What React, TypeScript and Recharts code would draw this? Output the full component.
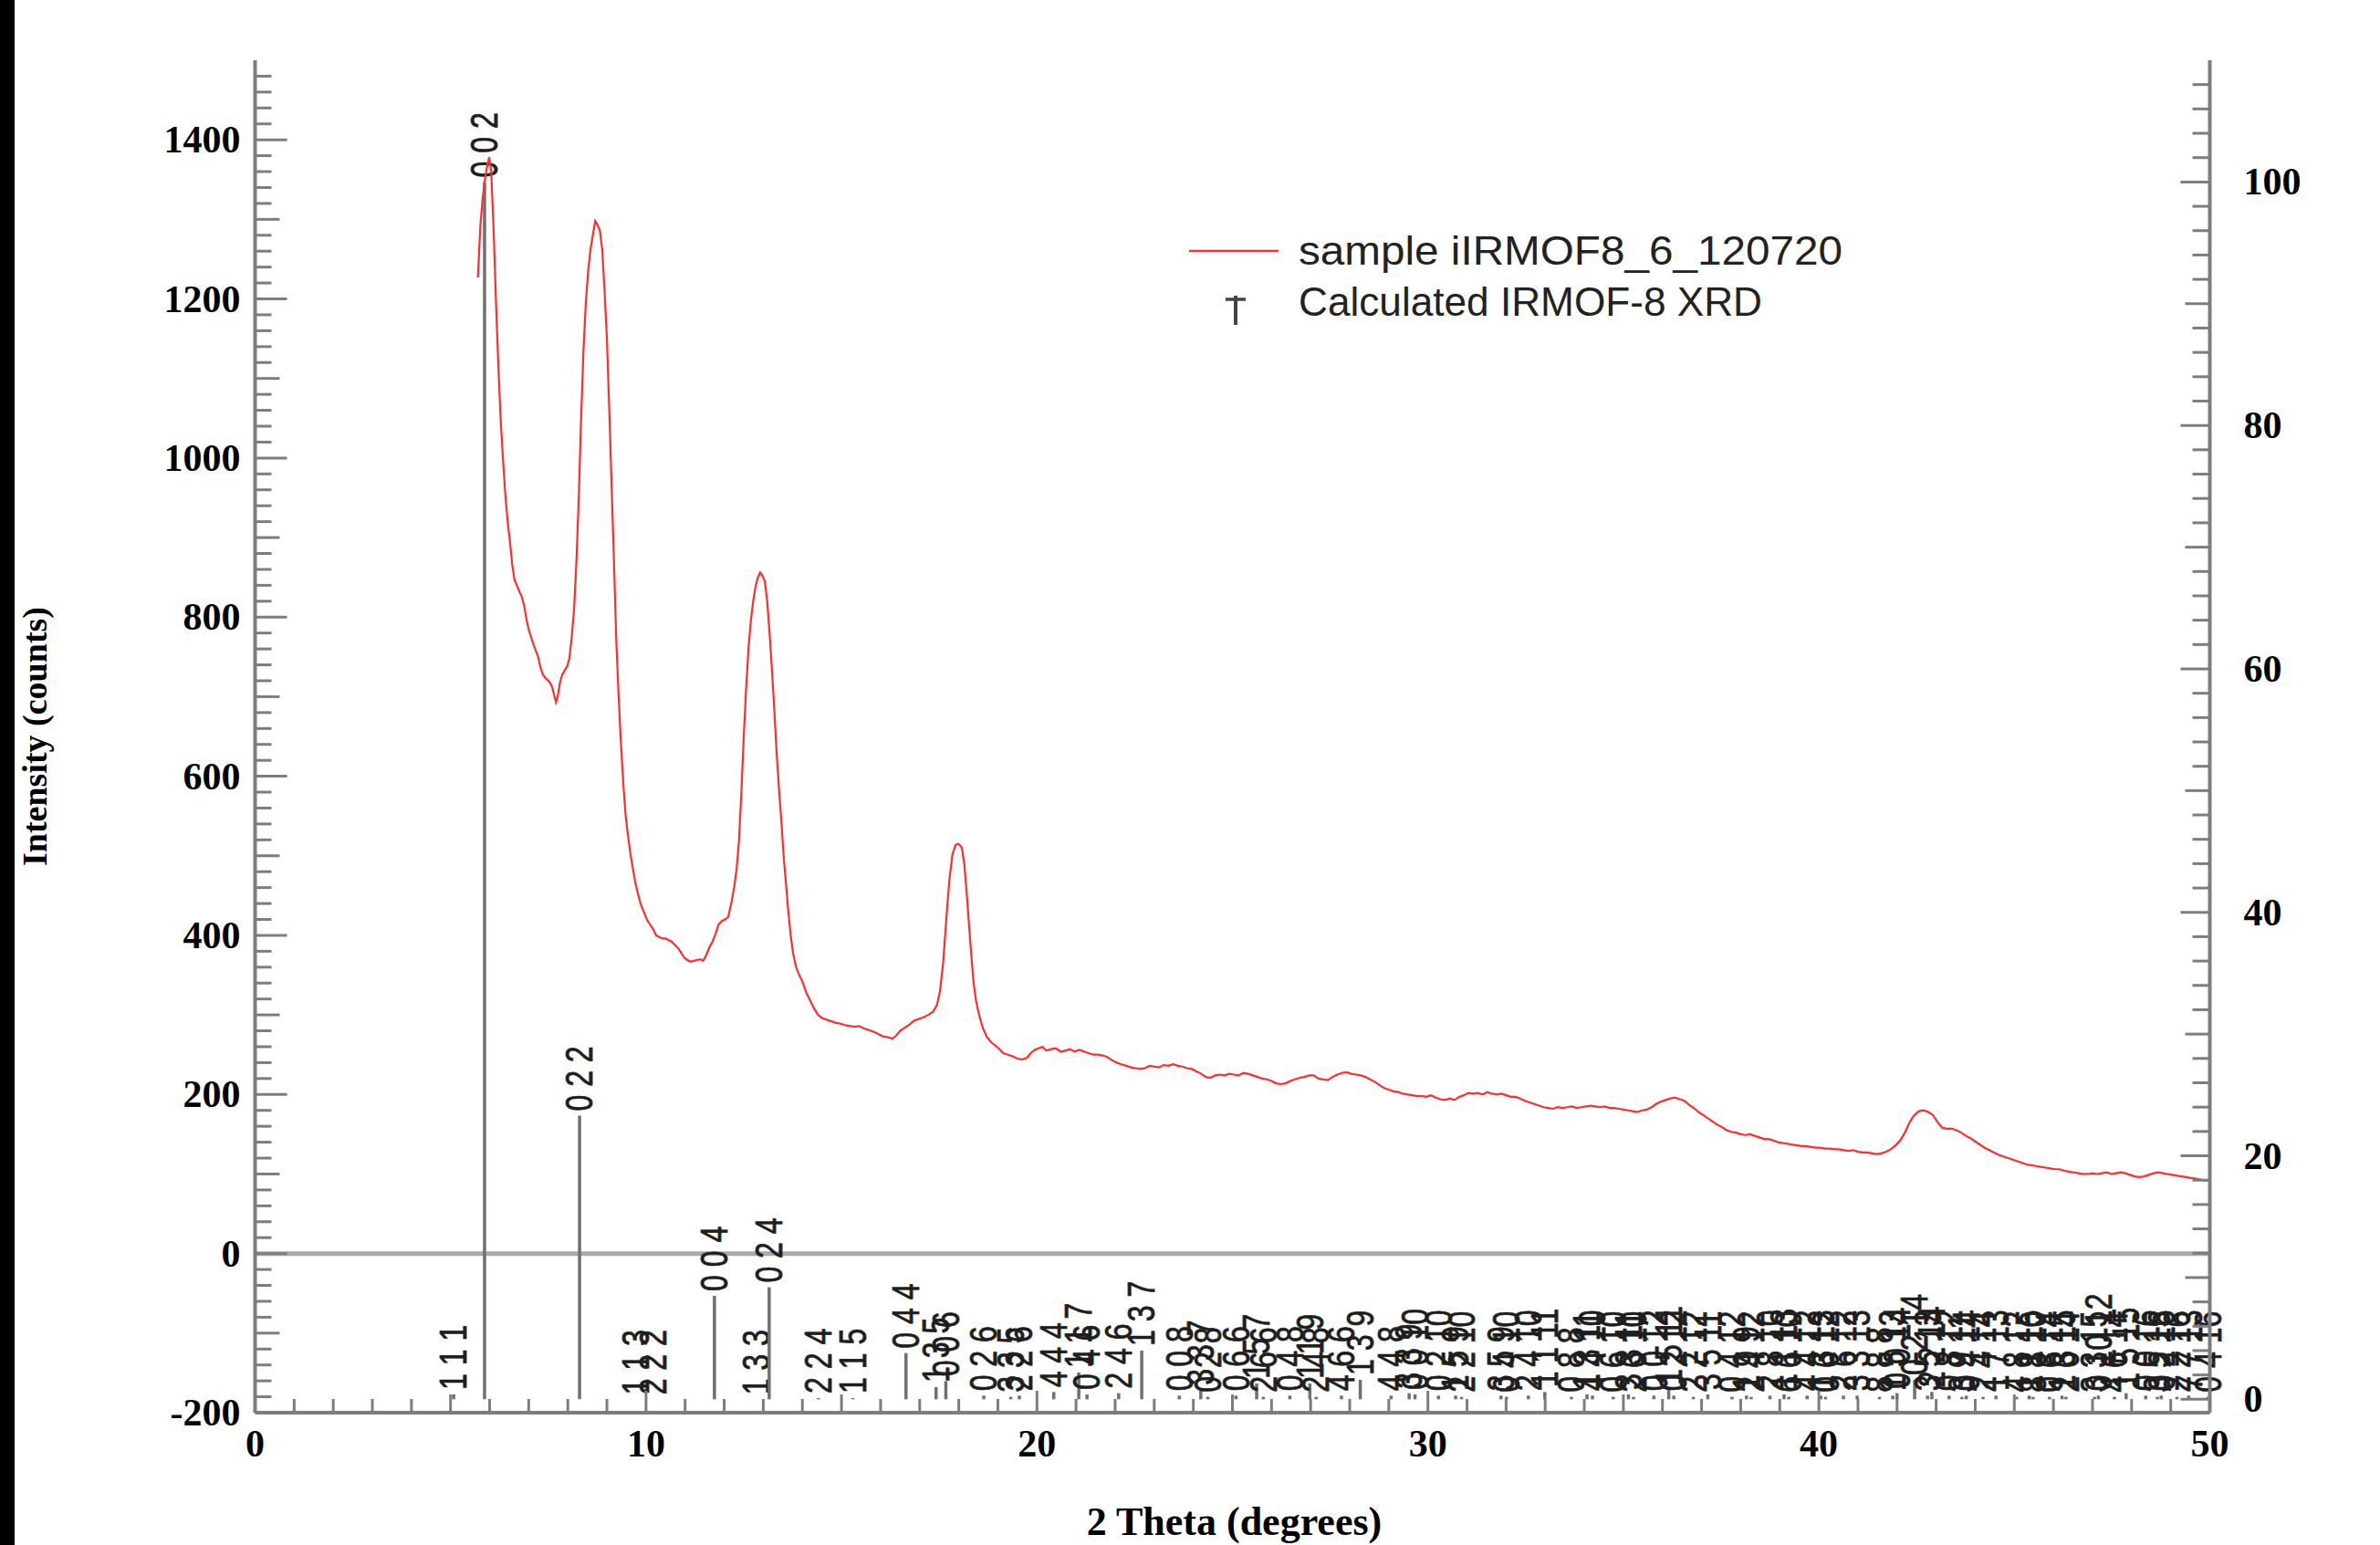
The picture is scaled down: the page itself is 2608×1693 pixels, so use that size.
import React from 'react';
import { ComposedChart, Line, XAxis, YAxis, ReferenceLine, Legend } from 'recharts';

// ---------- sample scan (2θ in degrees, intensity in counts) ----------
const scanAngles = [
  5.70, 5.76, 5.82, 5.88, 5.94, 5.99, 6.04, 6.10, 6.16, 6.22,
  6.28, 6.34, 6.40, 6.46, 6.52, 6.58, 6.64, 6.70, 6.76, 6.82,
  6.88, 6.94, 7.00, 7.06, 7.12, 7.18, 7.24, 7.30, 7.36, 7.42,
  7.48, 7.54, 7.60, 7.66, 7.70, 7.74, 7.80, 7.86, 7.92, 7.98,
  8.04, 8.10, 8.16, 8.22, 8.28, 8.34, 8.40, 8.46, 8.52, 8.58,
  8.64, 8.70, 8.76, 8.82, 8.88, 8.94, 9.00, 9.06, 9.12, 9.18,
  9.24, 9.30, 9.36, 9.42, 9.48, 9.54, 9.60, 9.66, 9.72, 9.78,
  9.86, 9.94, 10.02, 10.10, 10.18, 10.26, 10.34, 10.42, 10.50, 10.58,
  10.66, 10.74, 10.82, 10.90, 10.98, 11.06, 11.14, 11.22, 11.30, 11.38,
  11.46, 11.54, 11.62, 11.70, 11.78, 11.86, 11.94, 12.02, 12.10, 12.18,
  12.26, 12.32, 12.38, 12.44, 12.50, 12.56, 12.62, 12.68, 12.74, 12.80,
  12.86, 12.92, 12.98, 13.04, 13.10, 13.16, 13.22, 13.28, 13.34, 13.40,
  13.46, 13.52, 13.58, 13.64, 13.70, 13.76, 13.84, 13.92, 14.00, 14.10,
  14.20, 14.30, 14.40, 14.50, 14.62, 14.74, 14.86, 14.98, 15.10, 15.22,
  15.34, 15.46, 15.58, 15.70, 15.82, 15.94, 16.06, 16.18, 16.30, 16.40,
  16.50, 16.62, 16.74, 16.86, 16.98, 17.10, 17.22, 17.34, 17.44, 17.52,
  17.60, 17.68, 17.76, 17.84, 17.92, 18.00, 18.08, 18.14, 18.20, 18.26,
  18.32, 18.38, 18.44, 18.52, 18.62, 18.72, 18.82, 18.92, 19.02, 19.14,
  19.26, 19.38, 19.50, 19.62, 19.74, 19.84, 19.94, 20.04, 20.14, 20.24,
  20.36, 20.48, 20.60, 20.72, 20.84, 20.96, 21.08, 21.20, 21.32, 21.44,
  21.56, 21.68, 21.80, 21.92, 22.04, 22.16, 22.28, 22.40, 22.52, 22.64,
  22.76, 22.88, 23.00, 23.12, 23.24, 23.36, 23.48, 23.60, 23.72, 23.84,
  23.96, 24.08, 24.20, 24.32, 24.44, 24.56, 24.68, 24.80, 24.92, 25.04,
  25.16, 25.28, 25.40, 25.52, 25.64, 25.76, 25.88, 26.00, 26.12, 26.24,
  26.36, 26.48, 26.60, 26.72, 26.84, 26.96, 27.08, 27.20, 27.32, 27.44,
  27.56, 27.68, 27.80, 27.92, 28.04, 28.16, 28.28, 28.40, 28.52, 28.64,
  28.76, 28.88, 29.00, 29.12, 29.24, 29.36, 29.48, 29.60, 29.72, 29.84,
  29.96, 30.08, 30.20, 30.32, 30.44, 30.56, 30.68, 30.80, 30.92, 31.04,
  31.16, 31.28, 31.40, 31.52, 31.64, 31.76, 31.88, 32.00, 32.12, 32.24,
  32.36, 32.48, 32.60, 32.72, 32.84, 32.96, 33.08, 33.20, 33.32, 33.44,
  33.56, 33.68, 33.80, 33.92, 34.04, 34.16, 34.28, 34.40, 34.52, 34.64,
  34.76, 34.88, 35.00, 35.12, 35.24, 35.36, 35.48, 35.60, 35.72, 35.84,
  35.96, 36.08, 36.20, 36.32, 36.44, 36.56, 36.68, 36.80, 36.92, 37.04,
  37.16, 37.28, 37.40, 37.52, 37.64, 37.76, 37.88, 38.00, 38.12, 38.24,
  38.36, 38.48, 38.60, 38.72, 38.84, 38.96, 39.08, 39.20, 39.32, 39.44,
  39.56, 39.68, 39.80, 39.92, 40.04, 40.16, 40.28, 40.40, 40.52, 40.64,
  40.76, 40.88, 41.00, 41.12, 41.24, 41.36, 41.48, 41.60, 41.72, 41.84,
  41.96, 42.08, 42.20, 42.32, 42.44, 42.56, 42.68, 42.80, 42.92, 43.04,
  43.16, 43.28, 43.40, 43.52, 43.64, 43.76, 43.88, 44.00, 44.12, 44.24,
  44.36, 44.48, 44.60, 44.72, 44.84, 44.96, 45.08, 45.20, 45.32, 45.44,
  45.56, 45.68, 45.80, 45.92, 46.04, 46.16, 46.28, 46.40, 46.52, 46.64,
  46.76, 46.88, 47.00, 47.12, 47.24, 47.36, 47.48, 47.60, 47.72, 47.84,
  47.96, 48.08, 48.20, 48.32, 48.44, 48.56, 48.68, 48.80, 48.92, 49.04,
  49.16, 49.28, 49.40, 49.52, 49.64, 49.76, 49.88, 50.00,
];

const scanCounts = [
  1227, 1290, 1326, 1350, 1368, 1378, 1360, 1290, 1200, 1120,
  1050, 1000, 955, 920, 895, 865, 846, 840, 832, 826,
  815, 798, 784, 775, 766, 758, 750, 737, 728, 724,
  721, 718, 712, 700, 693, 700, 718, 728, 733, 738,
  748, 775, 810, 870, 950, 1050, 1135, 1195, 1235, 1262,
  1280, 1298, 1293, 1286, 1262, 1210, 1150, 1060, 965, 870,
  770, 700, 640, 590, 550, 525, 503, 485, 468, 455,
  440, 430, 420, 414, 408, 400, 398, 396, 396, 394,
  392, 388, 384, 378, 372, 369, 367, 368, 369, 370,
  368, 375, 385, 392, 402, 414, 418, 420, 423, 440,
  462, 485, 520, 580, 650, 710, 760, 795, 820, 838,
  850, 856, 852, 845, 820, 780, 735, 685, 630, 585,
  545, 500, 465, 430, 400, 378, 360, 350, 342, 328,
  318, 308, 300, 296, 294, 292, 290, 289, 287, 286,
  285, 286, 283, 281, 279, 276, 273, 272, 270, 274,
  280, 284, 288, 293, 295, 297, 300, 304, 312, 330,
  365, 420, 470, 502, 514, 515, 510, 490, 455, 415,
  375, 340, 318, 300, 283, 272, 266, 262, 258, 252,
  250, 248, 245, 244, 246, 252, 256, 258, 260, 255,
  257, 258, 254, 255, 257, 254, 256, 254, 252, 250,
  250, 249, 247, 243, 240, 238, 236, 234, 233, 232,
  233, 236, 235, 234, 237, 236, 238, 236, 235, 233,
  232, 229, 226, 222, 221, 224, 225, 224, 226, 225,
  224, 227, 226, 224, 222, 220, 219, 217, 214, 213,
  214, 217, 219, 221, 222, 224, 224, 220, 219, 218,
  222, 225, 227, 228, 226, 225, 224, 222, 219, 216,
  212, 208, 206, 204, 203, 201, 200, 199, 198, 198,
  197, 199, 196, 194, 193, 195, 193, 197, 199, 202,
  201, 202, 200, 203, 201, 200, 201, 199, 197, 197,
  195, 192, 190, 188, 186, 184, 183, 182, 184, 183,
  184, 185, 183, 184, 185, 186, 185, 184, 185, 183,
  183, 182, 181, 180, 179, 178, 180, 181, 184, 188,
  191, 193, 195, 196, 194, 192, 187, 183, 178, 174,
  170, 166, 162, 159, 155, 153, 152, 150, 149, 150,
  148, 146, 144, 144, 142, 140, 139, 138, 137, 136,
  135, 135, 134, 133, 133, 132, 132, 131, 131, 130,
  129, 130, 128, 127, 127, 126, 125, 126, 128, 131,
  136, 142, 152, 165, 174, 179, 180, 178, 174, 165,
  158, 157, 157, 155, 152, 148, 145, 141, 137, 133,
  130, 127, 124, 122, 120, 118, 116, 114, 112, 111,
  110, 109, 108, 107, 106, 106, 104, 103, 102, 101,
  100, 100, 101, 100, 101, 102, 100, 101, 102, 101,
  99, 97, 96, 97, 99, 101, 102, 101, 100, 99,
  98, 97, 96, 95, 94, 93, 92, 92,
];

// ---------- calculated IRMOF-8 reflections (right axis, relative intensity) ----------
const hklLabels = [
  '1 1 1', '0 0 2', '0 2 2', '1 1 3', '2 2 2', '0 0 4', '1 3 3', '0 2 4', '2 2 4', '1 1 5',
  '0 4 4', '1 3 5', '0 0 6', '0 2 6', '3 3 5', '2 2 6', '4 4 4', '1 1 7', '0 4 6', '2 4 6',
  '1 3 7', '0 0 8', '3 3 7', '0 2 8', '0 6 6', '1 5 7', '2 6 6', '0 4 8', '1 1 9', '2 4 8',
  '4 6 6', '1 3 9', '4 4 8', '3 3 9', '0 0 10', '0 2 10', '1 5 9', '2 2 10', '3 5 9', '0 4 10',
  '2 4 10', '1 1 11', '0 8 8', '1 3 11', '4 4 10', '0 6 10', '3 3 11', '2 6 10', '0 0 12', '1 5 11',
  '0 2 12', '2 2 12', '3 5 11', '0 4 12', '1 9 9', '2 4 12', '2 8 10', '1 1 13', '6 6 10', '4 4 12',
  '1 3 13', '0 6 12', '2 6 12', '3 3 13', '8 8 8', '1 5 13', '0 0 14', '0 2 14', '3 5 13', '2 2 14',
  '0 8 12', '3 9 11', '0 4 14', '2 4 14', '1 7 13', '4 8 12', '1 1 15', '8 8 10', '0 6 14', '1 3 15',
  '2 6 14', '3 3 15', '0 10 12', '4 6 14', '1 5 15', '0 0 16', '3 5 15', '0 2 16', '2 2 16', '7 7 13',
  '0 4 16',
];

const hklAngles = [
  5.08, 5.87, 8.30, 9.74, 10.18, 11.75, 12.81, 13.15, 14.41, 15.29,
  16.65, 17.42, 17.67, 18.64, 19.33, 19.55, 20.43, 21.07, 21.28, 22.09,
  22.68, 23.64, 24.19, 24.37, 25.09, 25.62, 25.79, 26.47, 26.98, 27.14,
  27.79, 28.27, 29.06, 29.52, 29.67, 30.27, 30.71, 30.86, 31.87, 32.01,
  32.57, 32.99, 33.67, 34.07, 34.21, 34.74, 35.13, 35.26, 35.78, 36.16,
  36.29, 36.79, 37.16, 37.78, 38.15, 38.27, 38.75, 39.11, 39.23, 39.70,
  40.05, 40.17, 40.63, 40.98, 41.55, 41.89, 42.00, 42.45, 42.78, 42.89,
  43.33, 43.66, 43.77, 44.20, 44.53, 45.06, 45.38, 45.48, 45.90, 46.22,
  46.32, 47.05, 47.15, 47.56, 47.86, 48.36, 48.66, 48.76, 49.16, 49.46,
  49.95,
];

const hklIntensities = [
  0.4, 100, 23.3, 0, 0, 8.5, 0, 9.2, 0.1, 0.1,
  3.8, 1.0, 1.5, 0.3, 0.2, 0.3, 0.6, 2.2, 0.4, 0.5,
  4.0, 0.3, 0.8, 0.2, 0.3, 1.3, 0.2, 0.3, 1.3, 0.2,
  0.3, 1.6, 0.3, 0.5, 0.4, 0.3, 0.3, 0.2, 0.3, 0.2,
  0.3, 0.6, 0.2, 0.4, 0.3, 0.2, 0.4, 0.2, 0.3, 0.8,
  0.3, 0.2, 0.4, 0.2, 0.3, 0.2, 0.3, 0.4, 0.2, 0.3,
  0.3, 0.2, 0.3, 0.3, 0.2, 0.3, 0.5, 1.6, 0.3, 0.6,
  0.3, 0.2, 0.3, 0.2, 0.3, 0.2, 0.3, 0.2, 0.2, 0.3,
  0.2, 0.2, 0.3, 0.2, 0.5, 0.3, 0.2, 0.3, 0.2, 0.3,
  0.2,
];

// ---------- axes ----------
const xLabelTicks = [0, 10, 20, 30, 40, 50];
const leftLabelTicks = [-200, 0, 200, 400, 600, 800, 1000, 1200, 1400];
const rightLabelTicks = [0, 20, 40, 60, 80, 100];
const seriesNames = ['sample iIRMOF8_6_120720', 'Calculated IRMOF-8 XRD'];
const axisTitles = { x: '2 Theta (degrees)', y: 'Intensity (counts)' };

const xMinorTicks = Array.from({ length: 51 }, (_, i) => i);
const leftMinorTicks = Array.from({ length: 85 }, (_, i) => -200 + i * 20);
const rightMinorTicks = Array.from({ length: 55 }, (_, i) => i * 2);

const scanData = scanAngles.map((t, i) => ({ angle: t, counts: scanCounts[i] }));

const AXIS = '#7d7d7d';
const STICK = '#707070';
const RED = '#ff2e2e';
const SERIF = "'Liberation Serif', 'Times New Roman', serif";
const SANS = "'Liberation Sans', Arial, Helvetica, sans-serif";

const tickText = { fontFamily: SERIF, fontWeight: 700, fontSize: 42, fill: '#000' } as const;

const BottomTick = (props: any) => {
  const { x, y, payload } = props;
  const v = Math.round(payload.value);
  const len = v % 10 === 0 ? 24 : v % 5 === 0 ? 20 : 15;
  return (
    <g>
      <line x1={x} x2={x} y1={y} y2={y - len} stroke={AXIS} strokeWidth={3} />
      {xLabelTicks.includes(v) && (
        <text x={x} y={y + 48} textAnchor="middle" {...tickText}>{v}</text>
      )}
    </g>
  );
};

const TopTick = (props: any) => {
  const { x, y, payload } = props;
  const v = Math.round(payload.value);
  const len = v % 10 === 0 ? 24 : v % 5 === 0 ? 21 : 14;
  return <line x1={x} x2={x} y1={y} y2={y + len} stroke={AXIS} strokeWidth={3} />;
};

const LeftTick = (props: any) => {
  const { x, y, payload } = props;
  const v = Math.round(payload.value);
  const len = v % 200 === 0 ? 35 : v % 100 === 0 ? 27 : 18;
  return (
    <g>
      <line x1={x} x2={x + len} y1={y} y2={y} stroke={AXIS} strokeWidth={3} />
      {leftLabelTicks.includes(v) && (
        <text x={x - 16} y={y + 14} textAnchor="end" {...tickText}>{v}</text>
      )}
    </g>
  );
};

const RightTick = (props: any) => {
  const { x, y, payload } = props;
  const v = Math.round(payload.value);
  const len = v % 20 === 0 ? 32 : v % 10 === 0 ? 27 : 19;
  return (
    <g>
      <line x1={x} x2={x - len} y1={y} y2={y} stroke={AXIS} strokeWidth={3} />
      {rightLabelTicks.includes(v) && (
        <text x={x + 37} y={y + 14} textAnchor="start" {...tickText}>{v}</text>
      )}
    </g>
  );
};

const makeStickLabel = (text: string) => (p: any) => {
  const vb = p.viewBox || {};
  const x = vb.x ?? 0;
  const y = (vb.y ?? 0) - 5;
  return (
    <text
      transform={`translate(${x},${y}) scale(1.3,1) rotate(-90)`}
      x={0}
      y={11}
      textAnchor="start"
      fontFamily={SANS}
      fontSize={32}
      fill="#1e1e1e"
      stroke="#1e1e1e"
      strokeWidth={0.6}
    >
      {text}
    </text>
  );
};

const YTitle = (p: any) => {
  const vb = p.viewBox || { x: 0, y: 0, width: 0, height: 0 };
  const cx = vb.x + 38;
  const cy = vb.y + vb.height / 2;
  return (
    <text
      x={cx}
      y={cy}
      transform={`rotate(-90, ${cx}, ${cy})`}
      textAnchor="middle"
      dominantBaseline="central"
      fontFamily={SERIF}
      fontWeight={700}
      fontSize={38}
      fill="#000"
    >
      {axisTitles.y}
    </text>
  );
};

const XTitle = (p: any) => {
  const vb = p.viewBox || { x: 0, y: 0, width: 0, height: 0 };
  return (
    <text
      x={vb.x + vb.width / 2 + 2}
      y={vb.y + 134}
      textAnchor="middle"
      fontFamily={SERIF}
      fontWeight={700}
      fontSize={44}
      fill="#000"
    >
      {axisTitles.x}
    </text>
  );
};

const LegendBox = () => (
  <svg width={820} height={130} style={{ overflow: 'visible', display: 'block' }}>
    <line x1={13} x2={111} y1={35} y2={35} stroke={RED} strokeWidth={2.5} />
    <text x={133} y={50} fontFamily={SANS} fontSize={44} fill="#222" textLength={596} lengthAdjust="spacingAndGlyphs">{seriesNames[0]}</text>
    <line x1={64} x2={64} y1={84} y2={116} stroke="#444" strokeWidth={4} />
    <line x1={53} x2={75} y1={88} y2={88} stroke="#444" strokeWidth={3.5} />
    <text x={133} y={106} fontFamily={SANS} fontSize={44} fill="#222" textLength={508} lengthAdjust="spacingAndGlyphs">{seriesNames[1]}</text>
  </svg>
);

export default function App() {
  return (
    <div style={{ position: 'absolute', left: 0, top: 0, width: 2608, height: 1693, background: '#fff' }}>
      <div style={{ position: 'absolute', left: 0, top: 0, width: 16, height: 1693, background: '#000' }} />
      <ComposedChart
        width={2608}
        height={1693}
        margin={{ top: 66, right: 0, bottom: 0, left: 0 }}
      >
        <XAxis
          xAxisId="bottom"
          dataKey="angle"
          type="number"
          domain={[0, 50]}
          allowDataOverflow
          ticks={xMinorTicks}
          interval={0}
          height={145}
          tickSize={0}
          tickMargin={0}
          tickLine={false}
          tick={<BottomTick />}
          axisLine={{ stroke: AXIS, strokeWidth: 4 }}
          label={(p: any) => <XTitle {...p} />}
        />
        <XAxis
          xAxisId="top"
          orientation="top"
          type="number"
          domain={[0, 50]}
          allowDataOverflow
          ticks={xMinorTicks}
          interval={0}
          height={0}
          tickSize={0}
          tickMargin={0}
          tickLine={false}
          tick={<TopTick />}
          axisLine={{ stroke: AXIS, strokeWidth: 4 }}
        />
        <YAxis
          yAxisId="left"
          type="number"
          domain={[-200, 1500]}
          allowDataOverflow
          ticks={leftMinorTicks}
          interval={0}
          width={279.5}
          tickSize={0}
          tickMargin={0}
          tickLine={false}
          tick={<LeftTick />}
          axisLine={{ stroke: AXIS, strokeWidth: 4 }}
          label={(p: any) => <YTitle {...p} />}
        />
        <YAxis
          yAxisId="right"
          orientation="right"
          type="number"
          domain={[-1.1, 110]}
          allowDataOverflow
          ticks={rightMinorTicks}
          interval={0}
          width={186.5}
          tickSize={0}
          tickMargin={0}
          tickLine={false}
          tick={<RightTick />}
          axisLine={{ stroke: AXIS, strokeWidth: 4 }}
        />
        <ReferenceLine xAxisId="bottom" yAxisId="left" y={0} stroke="#a9a9a9" strokeWidth={5} />
        {hklAngles.map((a, i) => (
          <ReferenceLine
            key={`hkl-${i}`}
            xAxisId="bottom"
            yAxisId="right"
            segment={[{ x: a, y: 0 }, { x: a, y: hklIntensities[i] }]}
            stroke={STICK}
            strokeWidth={3.5}
            label={makeStickLabel(hklLabels[i])}
          />
        ))}
        <Line
          xAxisId="bottom"
          yAxisId="left"
          data={scanData}
          dataKey="counts"
          name={seriesNames[0]}
          type="linear"
          dot={false}
          activeDot={false}
          stroke={RED}
          strokeWidth={2.2}
          isAnimationActive={false}
        />
        <Legend
          layout="vertical"
          align="center"
          verticalAlign="middle"
          content={() => <LegendBox />}
          wrapperStyle={{ position: 'absolute', left: 1290, top: 240, width: 820, height: 130 }}
        />
      </ComposedChart>
    </div>
  );
}
